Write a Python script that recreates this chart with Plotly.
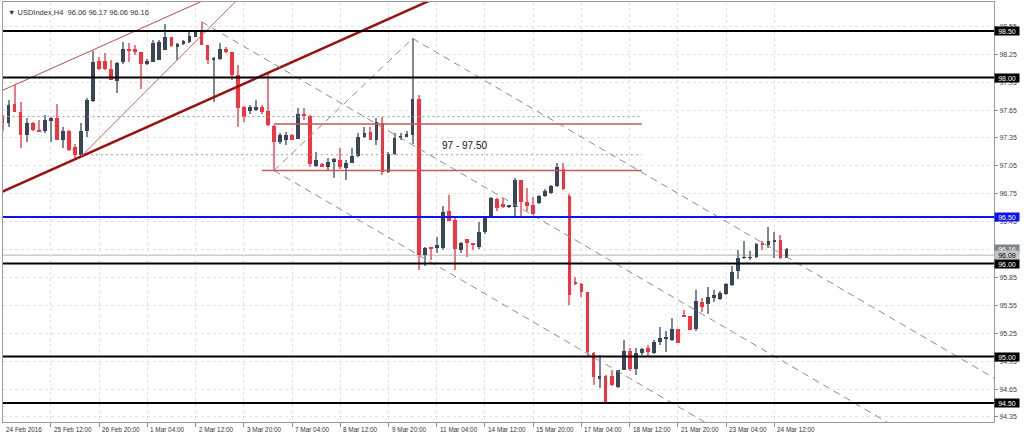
import plotly.graph_objects as go

# ---------------- data (H4 bars, index 0 = 25 Feb 12:00) ----------------
bars = list(range(-8, 123))
opens = [97.58, 97.51, 97.72, 97.63, 97.38, 97.51, 97.44, 97.42, 97.53, 97.56,
         97.33, 97.43, 97.25, 97.17, 97.42, 97.75, 98.18, 98.18, 98.09, 97.96,
         98.17, 98.31, 98.31, 98.27, 98.15, 98.17, 98.19, 98.30, 98.44, 98.33,
         98.36, 98.38, 98.44, 98.49, 98.35, 98.19, 98.20, 98.31, 98.27, 98.03,
         97.68, 97.64, 97.66, 97.68, 97.64, 97.48, 97.31, 97.33, 97.38, 97.34,
         97.61, 97.59, 97.05, 97.07, 97.04, 97.10, 97.11, 97.03, 97.08, 97.16,
         97.36, 97.41, 97.33, 97.51, 96.98, 97.18, 97.35, 97.36, 97.38, 97.77,
         96.09, 96.17, 96.17, 96.17, 96.56, 96.47, 96.15, 96.26, 96.22, 96.18,
         96.34, 96.49, 96.69, 96.64, 96.61, 96.61, 96.90, 96.66, 96.63, 96.65,
         96.73, 96.76, 96.83, 97.02, 96.73, 95.80, 95.78, 95.69, 95.04, 94.76,
         94.79, 94.79, 94.67, 94.86, 95.06, 94.87, 95.04, 95.09, 95.04, 95.16,
         95.19, 95.18, 95.30, 95.45, 95.44, 95.30, 95.59, 95.56, 95.63, 95.62,
         95.67, 95.77, 95.92, 96.06, 96.06, 96.07, 96.21, 96.20, 96.24, 96.25,
         96.06]
highs = [97.60, 97.76, 97.92, 97.74, 97.56, 97.52, 97.54, 97.60, 97.58, 97.72,
         97.47, 97.44, 97.29, 97.51, 97.78, 98.28, 98.22, 98.26, 98.19, 98.17,
         98.38, 98.37, 98.35, 98.27, 98.20, 98.40, 98.40, 98.58, 98.44, 98.37,
         98.40, 98.51, 98.51, 98.60, 98.35, 98.22, 98.37, 98.33, 98.27, 98.13,
         97.69, 97.70, 97.76, 97.70, 98.05, 97.49, 97.40, 97.41, 97.39, 97.67,
         97.67, 97.60, 97.20, 97.08, 97.13, 97.13, 97.24, 97.11, 97.24, 97.40,
         97.47, 97.47, 97.56, 97.58, 97.20, 97.40, 97.40, 97.43, 98.42, 97.81,
         96.18, 96.17, 96.29, 96.62, 96.74, 96.50, 96.23, 96.26, 96.22, 96.45,
         96.50, 96.72, 96.70, 96.70, 96.63, 96.92, 96.90, 96.81, 96.72, 96.74,
         96.80, 96.84, 97.08, 97.08, 96.75, 95.86, 95.79, 95.69, 95.05, 95.02,
         94.80, 94.85, 94.86, 95.18, 95.09, 95.09, 95.09, 95.12, 95.18, 95.32,
         95.27, 95.41, 95.30, 95.50, 95.44, 95.72, 95.63, 95.75, 95.72, 95.70,
         95.79, 95.97, 96.15, 96.24, 96.13, 96.22, 96.24, 96.39, 96.34, 96.31,
         96.17]
lows = [97.42, 97.47, 97.63, 97.24, 97.31, 97.42, 97.42, 97.40, 97.31, 97.33,
        97.24, 97.21, 97.11, 97.15, 97.36, 97.74, 98.08, 98.08, 97.97, 97.83,
        98.15, 98.17, 98.24, 97.88, 98.14, 98.17, 98.19, 98.30, 98.33, 98.19,
        98.35, 98.37, 98.44, 98.35, 98.15, 97.74, 98.19, 98.26, 97.97, 97.47,
        97.52, 97.61, 97.64, 97.61, 97.48, 97.00, 97.29, 97.27, 97.33, 97.34,
        97.54, 97.04, 97.04, 97.04, 97.00, 96.92, 97.02, 96.90, 97.08, 97.15,
        97.35, 97.33, 97.27, 96.95, 96.97, 97.17, 97.33, 97.36, 97.29, 95.93,
        95.97, 96.04, 96.11, 96.15, 96.46, 95.93, 96.11, 96.07, 96.15, 96.16,
        96.32, 96.49, 96.56, 96.60, 96.60, 96.50, 96.49, 96.57, 96.52, 96.64,
        96.72, 96.75, 96.82, 96.79, 95.55, 95.77, 95.64, 95.00, 94.69, 94.66,
        94.50, 94.68, 94.66, 94.85, 94.84, 94.80, 95.02, 95.00, 95.03, 95.12,
        95.05, 95.17, 95.15, 95.42, 95.28, 95.27, 95.48, 95.46, 95.59, 95.61,
        95.66, 95.76, 95.83, 96.05, 96.04, 96.06, 96.15, 96.17, 96.06, 96.05,
        96.06]
closes = [97.51, 97.70, 97.63, 97.38, 97.51, 97.44, 97.42, 97.54, 97.57, 97.33,
          97.43, 97.22, 97.17, 97.42, 97.76, 98.17, 98.09, 98.09, 97.97, 98.16,
          98.31, 98.28, 98.27, 98.15, 98.18, 98.37, 98.38, 98.44, 98.34, 98.36,
          98.39, 98.45, 98.49, 98.35, 98.19, 98.21, 98.31, 98.27, 98.03, 97.67,
          97.58, 97.68, 97.68, 97.63, 97.49, 97.31, 97.38, 97.38, 97.33, 97.61,
          97.59, 97.07, 97.11, 97.04, 97.09, 97.12, 97.04, 97.08, 97.16, 97.36,
          97.40, 97.33, 97.52, 96.98, 97.18, 97.35, 97.37, 97.39, 97.77, 96.09,
          96.17, 96.16, 96.20, 96.55, 96.46, 96.16, 96.22, 96.22, 96.20, 96.34,
          96.49, 96.70, 96.60, 96.61, 96.62, 96.90, 96.66, 96.62, 96.53, 96.73,
          96.78, 96.83, 97.04, 96.80, 95.66, 95.78, 95.69, 95.05, 94.78, 94.79,
          94.50, 94.69, 94.86, 95.06, 94.87, 95.04, 95.08, 95.05, 95.16, 95.20,
          95.20, 95.30, 95.15, 95.43, 95.29, 95.60, 95.53, 95.64, 95.66, 95.68,
          95.78, 95.91, 96.06, 96.07, 96.07, 96.21, 96.20, 96.24, 96.25, 96.06,
          96.16]

time_tick_bars = [-8, 0, 8, 16, 24, 32, 40, 48, 56, 64, 72, 80, 88, 96, 104, 112, 120]
time_tick_labels = ["24 Feb 2016", "25 Feb 12:00", "26 Feb 20:00", "1 Mar 04:00", "2 Mar 12:00",
                    "3 Mar 20:00", "7 Mar 04:00", "8 Mar 12:00", "9 Mar 20:00", "11 Mar 04:00",
                    "14 Mar 12:00", "15 Mar 20:00", "17 Mar 04:00", "18 Mar 12:00",
                    "21 Mar 20:00", "23 Mar 04:00", "24 Mar 12:00"]
price_ticks = [94.35, 94.65, 94.95, 95.25, 95.55, 95.85, 96.15, 96.45, 96.75,
               97.05, 97.35, 97.65, 97.95, 98.25, 98.55]

black_levels = [98.50, 98.00, 96.00, 95.00, 94.50]
blue_levels = [96.50]
bid_level = 96.09
last_close = 96.16

# zone "97 - 97.50"
zone_levels = [97.50, 97.00]
zone_start_bars = [37, 35]
zone_end_bar = 98
zone_text = "97 - 97.50"
zone_text_pos = (64.5, 97.27)

# dotted horizontal levels
dotted_levels = [97.58, 97.17]
dotted_start_bars = [-8, 5]
dotted_end_bar = 98

# trend lines (bar, price) pairs
thick_trend = [(5, 97.15), (35, 98.02)]
channel_anchor = (-6, 97.92)          # parallel to the thick trend
steep_trend = [(5, 97.15), (27, 98.58)]

# Andrews pitchfork anchors
pf_p1 = (25, 98.60)
pf_p2 = (37, 97.00)
pf_p3 = (60, 98.42)

title_text = "▼ USDIndex,H4  96.06 96.17 96.06 96.16"

# ---------------- styling ----------------
X_RANGE = [-7.92, 156.4]
Y_RANGE = [94.296, 98.812]
FONT = "Liberation Sans, Arial, sans-serif"
UP_BODY, UP_WICK = "#3a4556", "#7d8894"
DN_BODY, DN_WICK = "#f5333f", "#f07882"
BODY_W, WICK_W = 0.62, 0.17
MIN_BODY = 0.008
FS = 7
FS_X = 6.4

fig = go.Figure()

is_up = [c >= o for o, c in zip(opens, closes)]
wick_colors = [UP_WICK if u else DN_WICK for u in is_up]
body_colors = [UP_BODY if u else DN_BODY for u in is_up]
body_lo = [min(o, c) for o, c in zip(opens, closes)]
body_h = [max(abs(c - o), MIN_BODY) for o, c in zip(opens, closes)]
wick_h = [h - l for h, l in zip(highs, lows)]

fig.add_trace(go.Bar(x=bars, y=wick_h, base=lows, width=WICK_W,
                     marker=dict(color=wick_colors, line=dict(width=0)),
                     hoverinfo="skip", showlegend=False))
fig.add_trace(go.Bar(x=bars, y=body_h, base=body_lo, width=BODY_W,
                     marker=dict(color=body_colors, line=dict(width=0)),
                     hoverinfo="skip", showlegend=False))


def extend(p, slope, k0, k1):
    return [k0, k1], [p[1] + slope * (k0 - p[0]), p[1] + slope * (k1 - p[0])]


def add_line(xs, ys, color, width, dash=None):
    fig.add_trace(go.Scatter(x=xs, y=ys, mode="lines", hoverinfo="skip", showlegend=False,
                             line=dict(color=color, width=width, dash=dash)))


# dotted levels
for lv, ks in zip(dotted_levels, dotted_start_bars):
    add_line([ks, dotted_end_bar], [lv, lv], "#9a9a9a", 1, "2px,3px")

# zone lines
for lv, ks in zip(zone_levels, zone_start_bars):
    add_line([ks, zone_end_bar], [lv, lv], "#c25a5a", 1.5)

# thick trend line + parallel channel
s_thick = (thick_trend[1][1] - thick_trend[0][1]) / (thick_trend[1][0] - thick_trend[0][0])
xs, ys = extend(thick_trend[0], s_thick, -20, 120)
add_line(xs, ys, "#9b1010", 2.5)
xs, ys = extend(channel_anchor, s_thick, -20, 80)
add_line(xs, ys, "#b84a4e", 1)
s_steep = (steep_trend[1][1] - steep_trend[0][1]) / (steep_trend[1][0] - steep_trend[0][0])
xs, ys = extend(steep_trend[0], s_steep, steep_trend[0][0], 60)
add_line(xs, ys, "#c06468", 1)

# pitchfork
mid = ((pf_p2[0] + pf_p3[0]) / 2, (pf_p2[1] + pf_p3[1]) / 2)
s_pf = (mid[1] - pf_p1[1]) / (mid[0] - pf_p1[0])
PF_DASH = "7px,5px"
add_line([pf_p2[0], pf_p3[0]], [pf_p2[1], pf_p3[1]], "#8c8c8c", 1, PF_DASH)
for p in (pf_p1, pf_p2, pf_p3):
    xs, ys = extend(p, s_pf, p[0], 300)
    add_line(xs, ys, "#8c8c8c", 1, PF_DASH)

# horizontal levels as shapes
shapes = []
for lv in black_levels:
    shapes.append(dict(type="line", xref="paper", x0=0, x1=1, yref="y", y0=lv, y1=lv,
                       line=dict(color="#000000", width=2), layer="above"))
for lv in blue_levels:
    shapes.append(dict(type="line", xref="paper", x0=0, x1=1, yref="y", y0=lv, y1=lv,
                       line=dict(color="#0a14f0", width=2), layer="above"))
shapes.append(dict(type="line", xref="paper", x0=0, x1=1, yref="y", y0=bid_level, y1=bid_level,
                   line=dict(color="#b4b4b4", width=1), layer="below"))

annotations = []
# time labels
for k, t in zip(time_tick_bars, time_tick_labels):
    annotations.append(dict(x=max(k, X_RANGE[0]), xref="x", y=0, yref="paper", yanchor="top",
                            xanchor="left", yshift=-2, xshift=1, text=t, showarrow=False,
                            font=dict(family=FONT, size=FS_X, color="#333333")))


def price_box(val, bg, fg):
    annotations.append(dict(x=1, xref="paper", y=val, yref="y", xanchor="left", yanchor="middle",
                            xshift=0, text=f"{val:.2f}", showarrow=False, bgcolor=bg,
                            width=24, height=8, align="center", borderpad=0,
                            font=dict(family=FONT, size=FS, color=fg)))


price_box(last_close, "#7c848c", "#ffffff")
price_box(bid_level, "#c4c4c4", "#000000")
for lv in black_levels:
    price_box(lv, "#000000", "#ffffff")
for lv in blue_levels:
    price_box(lv, "#0a14f0", "#ffffff")

annotations.append(dict(x=zone_text_pos[0], y=zone_text_pos[1], xref="x", yref="y",
                        xanchor="left", yanchor="middle", text=zone_text, showarrow=False,
                        font=dict(family=FONT, size=10, color="#111111")))
annotations.append(dict(x=0, y=1, xref="paper", yref="paper", xanchor="left", yanchor="top",
                        xshift=3, yshift=-4, text=title_text, showarrow=False,
                        font=dict(family=FONT, size=7.5, color="#333333")))

fig.update_layout(
    width=1024, height=438,
    margin=dict(l=3, r=30, t=2, b=16),
    paper_bgcolor="white", plot_bgcolor="white",
    barmode="overlay", bargap=0,
    showlegend=False, shapes=shapes, annotations=annotations,
    xaxis=dict(range=X_RANGE, tickmode="array",
               tickvals=time_tick_bars[1:], showticklabels=False, ticks="outside",
               ticklen=4, tickcolor="#8a8a8a", showgrid=True, gridcolor="#e2e2e2",
               griddash="dot", gridwidth=1, showline=True, linecolor="#9a9a9a",
               linewidth=1, mirror=True, zeroline=False, fixedrange=True),
    yaxis=dict(range=Y_RANGE, side="right", tickmode="array", tickvals=price_ticks,
               ticktext=[f"{v:.2f}" for v in price_ticks], ticks="outside", ticklen=3,
               tickcolor="#8a8a8a", tickfont=dict(family=FONT, size=FS, color="#444444"),
               showgrid=True, gridcolor="#e2e2e2", griddash="dot", gridwidth=1,
               showline=True, linecolor="#9a9a9a", linewidth=1, mirror=True,
               zeroline=False, fixedrange=True),
)

fig.write_html("out.html", config={"displayModeBar": False},
               post_script="document.body.style.margin='0';")
